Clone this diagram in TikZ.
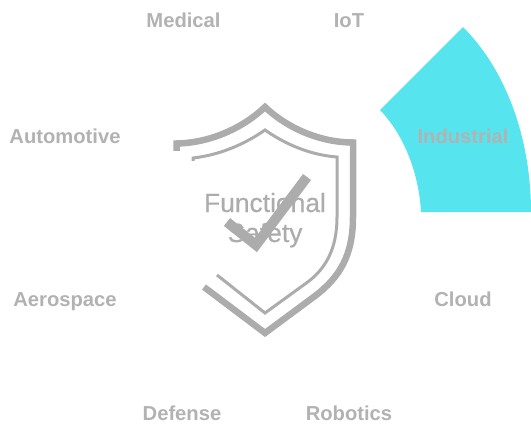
\documentclass[tikz,border=0pt]{standalone}
\usepackage{fontspec}
\setmainfont{Liberation Sans}
\newfontfamily\ctrfont[FakeBold=0.5]{Liberation Sans}
\definecolor{lab}{RGB}{172,172,172}
\definecolor{lblgrey}{RGB}{178,178,178}
\definecolor{cyanfill}{RGB}{86,229,238}
\tikzset{
  lbl/.style={text=lblgrey,font=\fontsize{20.2}{22}\selectfont\bfseries,inner sep=0pt,anchor=base},
  ctr/.style={text=lab,font=\ctrfont\fontsize{26.4}{30}\selectfont,inner sep=0pt,anchor=base},
  shieldline/.style={draw=lab,line join=miter,fill=none}
}
\begin{document}
\begin{tikzpicture}[x=1pt,y=-1pt]
\useasboundingbox (0,0) rectangle (531,428);
\fill[cyanfill] (421,212) .. controls (419,175) and (405,136) .. (380,110) -- (463,27) .. controls (507,71) and (531,140) .. (531,212) -- cycle;
\draw[shieldline,line width=6.5pt] (176.5,151) -- (176.5,143.5) .. controls (210,143) and (243,128) .. (265,107) .. controls (287,128) and (320,142.5) .. (353,142.5) -- (353,217) .. controls (353,255) and (340,277) .. (315,296) -- (265,333) -- (204,287);
\draw[shieldline,line width=3pt] (193,161) -- (193,158) .. controls (220,155) and (245,144) .. (265,130) .. controls (285,144) and (310,155) .. (337,157) -- (337,217) .. controls (337,250) and (325,270) .. (305,284) -- (265,313) -- (217,275);
\draw[shieldline,line width=10pt] (227,222) -- (256,245) -- (307,177);
\node[ctr] (center1) at (265,212) {Functional};
\node[ctr] (center2) at (265,242) {Safety};
\node[lbl] (medical) at (183.5,28) {Medical};
\node[lbl] (iot) at (349,28) {IoT};
\node[lbl] (auto) at (65,143) {Automotive};
\node[lbl] (industrial) at (463,143) {Industrial};
\node[lbl] (aero) at (65,306) {Aerospace};
\node[lbl] (cloud) at (463,306) {Cloud};
\node[lbl] (defense) at (182,420) {Defense};
\node[lbl] (robotics) at (349,420) {Robotics};
\end{tikzpicture}
\end{document}
